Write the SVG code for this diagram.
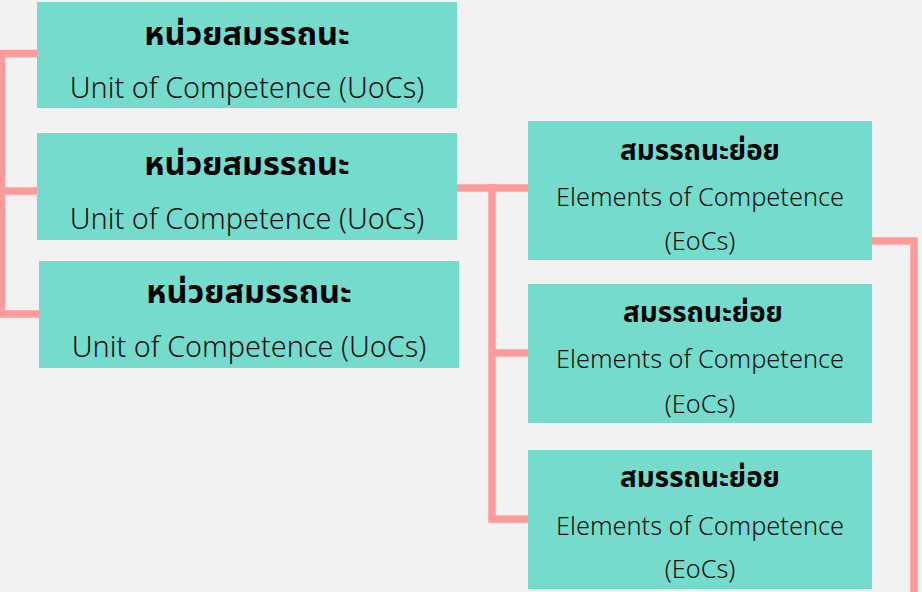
<svg xmlns="http://www.w3.org/2000/svg" width="922" height="592" viewBox="0 0 922 592">
<style>
.box{fill:#75dbcd}
.con{fill:none;stroke:#ff9b9b;stroke-width:7.5}
.th{font-family:"Noto Sans Thai","Noto Sans","Liberation Sans",sans-serif;font-weight:bold;fill:#000;text-anchor:middle}
.en{font-family:"Noto Sans","Liberation Sans",sans-serif;font-weight:300;fill:#111;text-anchor:middle}
.u1{font-size:32.5px}
.u2{font-size:28.8px}
.e1{font-size:27.8px}
.e2{font-size:25.3px}
</style>
<rect width="922" height="592" fill="#f2f2f2"/>
<g id="connectors">
<path class="con" d="M37 53.5H1.5V314H39M1.5 191H39"/>
<path class="con" d="M454 188H528M492 184V519H528M492 353H528"/>
<path class="con" d="M872 241H914V592"/>
</g>
<g id="uoc1">
<rect class="box" x="37" y="2" width="420" height="106"/>
<text class="th u1" x="247" y="45">หน่วยสมรรถนะ</text>
<text class="en u2" x="247" y="98">Unit of Competence (UoCs)</text>
</g>
<g id="uoc2">
<rect class="box" x="37" y="133" width="420" height="107"/>
<text class="th u1" x="247" y="175">หน่วยสมรรถนะ</text>
<text class="en u2" x="247" y="229">Unit of Competence (UoCs)</text>
</g>
<g id="uoc3">
<rect class="box" x="39" y="261" width="420" height="107"/>
<text class="th u1" x="249" y="303">หน่วยสมรรถนะ</text>
<text class="en u2" x="249" y="357">Unit of Competence (UoCs)</text>
</g>
<g id="eoc1">
<rect class="box" x="528" y="121" width="344" height="139"/>
<text class="th e1" x="700" y="160">สมรรถนะย่อย</text>
<text class="en e2" x="700" y="206">Elements of Competence</text>
<text class="en e2" x="700" y="250">(EoCs)</text>
</g>
<g id="eoc2">
<rect class="box" x="528" y="284" width="344" height="139"/>
<text class="th e1" x="703" y="322">สมรรถนะย่อย</text>
<text class="en e2" x="700" y="368">Elements of Competence</text>
<text class="en e2" x="700" y="413">(EoCs)</text>
</g>
<g id="eoc3">
<rect class="box" x="528" y="450" width="344" height="139"/>
<text class="th e1" x="700" y="487">สมรรถนะย่อย</text>
<text class="en e2" x="700" y="535">Elements of Competence</text>
<text class="en e2" x="700" y="578">(EoCs)</text>
</g>
</svg>
